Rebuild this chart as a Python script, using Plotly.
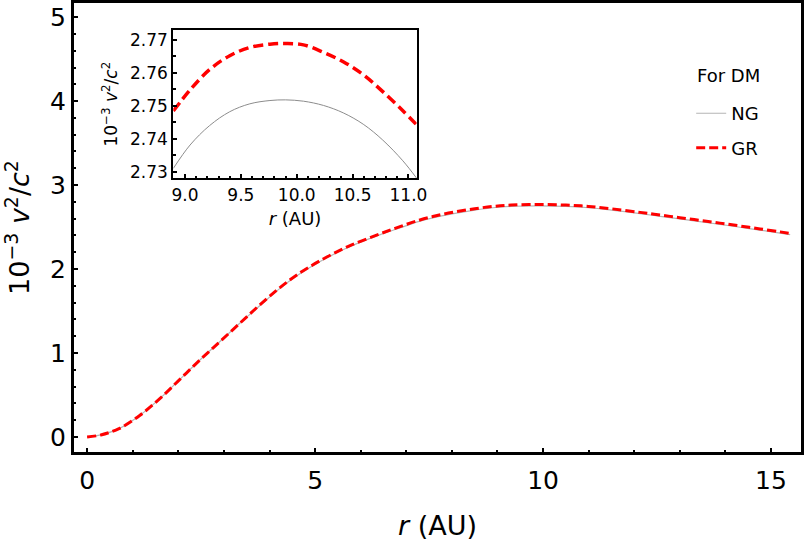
import plotly.graph_objects as go

# ---- data ----
r_main = [0, 0.3, 0.7, 1.16, 1.6, 2.04, 2.48, 2.92, 3.36, 3.8, 4.23, 4.6, 5.11, 5.73,
          6.43, 6.86, 7.3, 7.7, 8.1, 8.5, 8.9, 9.3, 9.9, 10.5, 11.0, 11.5, 12.13,
          12.57, 13.0, 13.44, 13.88, 14.32, 14.76, 15.2, 15.42]
gr_main = [0, 0.025, 0.10, 0.26, 0.46, 0.69, 0.92, 1.14, 1.36, 1.58, 1.78, 1.93, 2.10, 2.27,
           2.42, 2.505, 2.585, 2.64, 2.683, 2.718, 2.746, 2.762, 2.769, 2.762, 2.746, 2.718, 2.675,
           2.643, 2.612, 2.58, 2.547, 2.513, 2.478, 2.443, 2.425]
ng_main = [0, 0.025, 0.10, 0.26, 0.46, 0.69, 0.92, 1.14, 1.36, 1.57, 1.77, 1.92, 2.09, 2.26,
           2.41, 2.49, 2.57, 2.625, 2.667, 2.702, 2.730, 2.746, 2.752, 2.746, 2.730, 2.702, 2.660,
           2.628, 2.597, 2.565, 2.532, 2.498, 2.463, 2.428, 2.410]

r_inset = [8.895, 9.045, 9.22, 9.40, 9.58, 9.76, 9.90, 10.06, 10.24, 10.42, 10.60, 10.77, 10.95, 11.074]
gr_inset = [2.7484, 2.7548, 2.7610, 2.7652, 2.7677, 2.7687, 2.7689, 2.7685, 2.7662, 2.7633,
            2.7593, 2.7543, 2.7485, 2.7442]
ng_inset = [2.7310, 2.7381, 2.7440, 2.7482, 2.7506, 2.7516, 2.7518, 2.7514, 2.7501, 2.7478,
            2.7443, 2.7396, 2.7333, 2.7280]

series_names = ["NG", "GR"]
legend_title = "For DM"

FONT = "DejaVu Sans"
RED = "#FF0000"
GRAY_LINE = "#8c8c8c"
TICK_GRAY = "#b0b0b0"

fig = go.Figure()

# main plot
fig.add_trace(go.Scatter(x=r_main, y=ng_main, mode="lines", name=series_names[0],
                         legendgroup="ng",
                         line=dict(color="#b4b4b4", width=1.2, shape="spline"),
                         xaxis="x", yaxis="y"))
fig.add_trace(go.Scatter(x=r_main, y=gr_main, mode="lines", name=series_names[1],
                         legendgroup="gr",
                         line=dict(color=RED, width=3, dash="9px,4px", shape="spline"),
                         xaxis="x", yaxis="y"))
# inset
fig.add_trace(go.Scatter(x=r_inset, y=ng_inset, mode="lines", showlegend=False,
                         line=dict(color=GRAY_LINE, width=1, shape="spline"),
                         xaxis="x2", yaxis="y2"))
fig.add_trace(go.Scatter(x=r_inset, y=gr_inset, mode="lines", showlegend=False,
                         line=dict(color=RED, width=3.5, dash="10px,5px", shape="spline"),
                         xaxis="x2", yaxis="y2"))

xr_main = [-0.31, 15.68]
yr_main = [-0.19, 5.18]
xr_in = [8.895, 11.074]
yr_in = [2.728, 2.773]
in_dom_x = [0.1376, 0.4715]
in_dom_y = [0.6091, 0.9379]

frame = dict(showline=True, linecolor="black", linewidth=2, mirror=True,
             showgrid=False, zeroline=False, automargin=False)
gray_over = dict(showline=True, linecolor="black", linewidth=2,
                 showgrid=False, zeroline=False, showticklabels=False, automargin=False)

fig.update_layout(
    width=806, height=546,
    margin=dict(l=73, r=4, t=2, b=93),
    paper_bgcolor="white", plot_bgcolor="white",
    font=dict(family=FONT, color="black"),
    showlegend=True,
    legend=dict(x=0.848, y=0.7937, xanchor="left", yanchor="top",
                bgcolor="rgba(0,0,0,0)", font=dict(size=18, family=FONT),
                tracegroupgap=8, traceorder="grouped"),
    xaxis=dict(domain=[0, 1], range=xr_main, anchor="y", **frame,
               ticks="inside", ticklen=5, tickwidth=1.5, tickcolor="black",
               dtick=5, tick0=0, tickfont=dict(size=25),
               minor=dict(ticks="inside", ticklen=3, tickwidth=1.5, tickcolor="black", dtick=1),
               ticklabelstandoff=4,
               title=dict(text="<i>r</i> (AU)", font=dict(size=27), standoff=22)),
    yaxis=dict(domain=[0, 1], range=yr_main, anchor="x", **frame,
               ticks="inside", ticklen=5, tickwidth=1.5, tickcolor="black",
               dtick=1, tick0=0, tickfont=dict(size=25),
               minor=dict(ticks="inside", ticklen=3, tickwidth=1.5, tickcolor="black", dtick=0.2),
               title=dict(text="10<sup>−3</sup> <i>v</i><sup>2</sup>/<i>c</i><sup>2</sup>",
                          font=dict(size=27), standoff=17)),
    # top / right gray mirror ticks of main plot
    xaxis3=dict(overlaying="x", side="top", anchor="y", range=xr_main, **gray_over,
                ticks="inside", ticklen=5, tickwidth=1, tickcolor=TICK_GRAY, dtick=5, tick0=0,
                minor=dict(ticks="inside", ticklen=3, tickwidth=1, tickcolor=TICK_GRAY, dtick=1)),
    yaxis3=dict(overlaying="y", side="right", anchor="x", range=yr_main, **gray_over,
                ticks="inside", ticklen=5, tickwidth=1, tickcolor=TICK_GRAY, dtick=1, tick0=0,
                minor=dict(ticks="inside", ticklen=3, tickwidth=1, tickcolor=TICK_GRAY, dtick=0.2)),
    # inset axes
    xaxis2=dict(domain=in_dom_x, range=xr_in, anchor="y2", **frame,
                ticks="inside", ticklen=4, tickwidth=1.5, tickcolor="black",
                dtick=0.5, tick0=0, tickformat=".1f", tickfont=dict(size=17),
                minor=dict(ticks="inside", ticklen=2.5, tickwidth=1.5, tickcolor="black", dtick=0.1),
                ticklabelstandoff=0,
                title=dict(text="<i>r</i> (AU)", font=dict(size=18), standoff=9)),
    yaxis2=dict(domain=in_dom_y, range=yr_in, anchor="x2", **frame,
                ticks="inside", ticklen=4, tickwidth=1.5, tickcolor="black",
                dtick=0.01, tick0=0, tickformat=".2f", tickfont=dict(size=17),
                minor=dict(ticks="inside", ticklen=2.5, tickwidth=1.5, tickcolor="black", dtick=0.005),
                title=dict(text="10<sup>−3</sup> <i>v</i><sup>2</sup>/<i>c</i><sup>2</sup>",
                           font=dict(size=17), standoff=8)),
    xaxis4=dict(overlaying="x2", side="top", anchor="y2", range=xr_in, **gray_over,
                ticks="inside", ticklen=4, tickwidth=1, tickcolor=TICK_GRAY, dtick=0.5, tick0=0,
                minor=dict(ticks="inside", ticklen=2.5, tickwidth=1, tickcolor=TICK_GRAY, dtick=0.1)),
    yaxis4=dict(overlaying="y2", side="right", anchor="x2", range=yr_in, **gray_over,
                ticks="inside", ticklen=4, tickwidth=1, tickcolor=TICK_GRAY, dtick=0.01, tick0=0,
                minor=dict(ticks="inside", ticklen=2.5, tickwidth=1, tickcolor=TICK_GRAY, dtick=0.005)),
    shapes=[dict(type="rect", xref="paper", yref="paper", x0=0, x1=1, y0=0, y1=1,
                 line=dict(color="black", width=2), fillcolor="rgba(0,0,0,0)", layer="above")],
    annotations=[dict(text=legend_title, xref="paper", yref="paper",
                      x=(762 - 73) / 729, y=(453 - 75) / 451, xanchor="right", yanchor="middle",
                      showarrow=False, font=dict(size=18, family=FONT))],
)

fig.write_html("out.html", config={"displayModeBar": False},
               post_script="document.body.style.margin='0';")
